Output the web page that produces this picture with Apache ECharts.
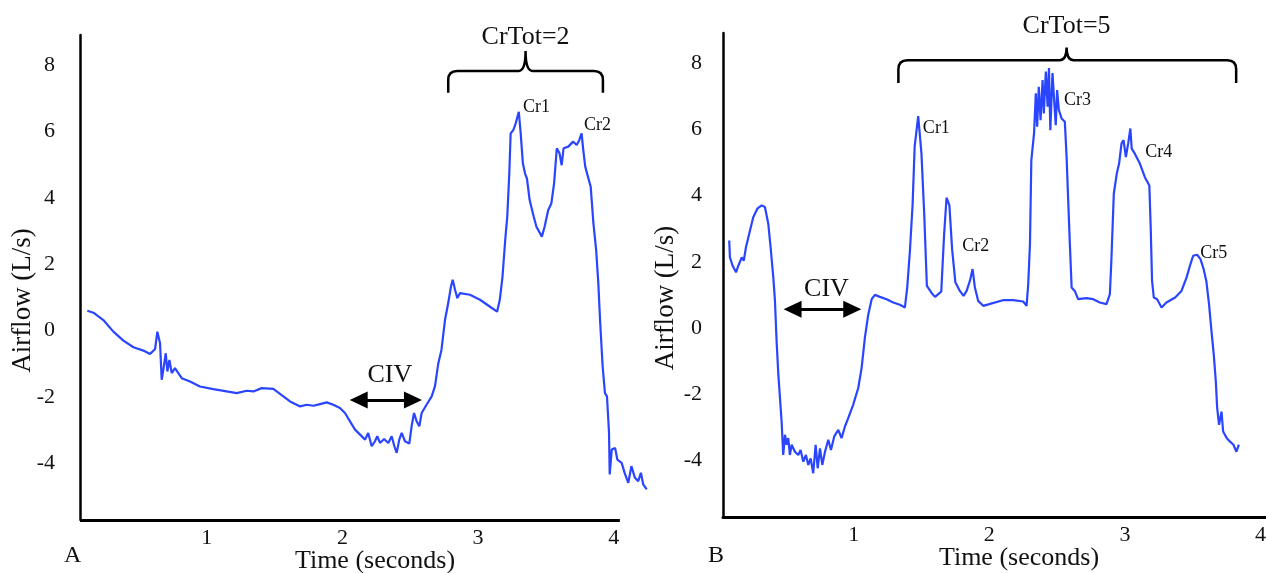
<!DOCTYPE html>
<html><head><meta charset="utf-8">
<script src="https://cdn.jsdelivr.net/npm/echarts@6/dist/echarts.min.js"></script>
<style>html,body{margin:0;padding:0;background:#fff}#c{width:1266px;height:573px}</style>
</head><body><div id="c"></div>
<script>
// ---------- data ----------
const timeA = [0.12,0.165,0.238,0.312,0.386,0.46,0.533,0.582,0.619,0.636,0.648,0.656,0.668,0.68,0.698,0.71,0.725,0.742,0.766,0.783,0.816,0.877,0.95,1.049,1.147,1.221,1.295,1.344,1.405,1.491,1.54,1.614,1.688,1.737,1.786,1.835,1.884,1.933,1.982,2.019,2.056,2.093,2.13,2.167,2.19,2.216,2.24,2.257,2.277,2.307,2.338,2.363,2.383,2.4,2.419,2.437,2.461,2.493,2.51,2.528,2.547,2.567,2.584,2.62,2.658,2.682,2.707,
  2.73,2.756,2.78,2.8,2.813,2.83,2.847,2.867,2.94,3.014,3.088,3.14,3.16,3.18,3.2,3.215,3.23,3.24,3.26,3.277,3.29,3.30,3.314,3.33,3.346,3.36,3.38,3.41,3.43,3.47,3.49,3.517,3.54,3.56,3.58,3.6,3.616,3.63,3.665,3.7,3.727,3.746,3.763,3.775,3.79,3.81,3.83,3.85,3.87,3.886,3.9,3.918,3.935,3.95,3.965,3.97,3.985,4.01,4.026,4.058,4.08,4.107,4.13,4.156,4.18,4.2,4.217,4.243];
const flowA = [0.6,0.54,0.32,-0.03,-0.3,-0.5,-0.6,-0.7,-0.56,-0.03,0.02,-0.38,-1.48,-1.18,-0.68,-1.23,-0.88,-1.28,-1.13,-1.23,-1.43,-1.53,-1.68,-1.76,-1.83,-1.88,-1.81,-1.83,-1.73,-1.75,-1.9,-2.13,-2.28,-2.23,-2.26,-2.21,-2.16,-2.23,-2.33,-2.48,-2.73,-2.98,-3.13,-3.28,-3.08,-3.48,-3.33,-3.18,-3.38,-3.26,-3.38,-3.18,-3.48,-3.68,-3.28,-3.08,-3.33,-3.4,-2.88,-2.48,-2.73,-2.88,-2.48,-2.23,-1.98,-1.68,-0.98,
  -0.58,0.32,0.83,1.33,1.53,1.23,0.98,1.13,1.08,0.93,0.72,0.57,0.93,1.63,2.73,3.43,4.73,5.94,6.04,6.24,6.44,6.59,5.94,5.04,4.73,4.58,3.93,3.43,3.13,2.83,3.13,3.63,3.83,4.43,5.49,5.34,4.98,5.49,5.54,5.69,5.59,5.74,5.94,5.44,4.93,4.63,4.33,3.23,2.43,1.43,0.23,-1.08,-1.88,-1.98,-3.08,-4.33,-3.58,-3.53,-3.88,-3.98,-4.28,-4.58,-4.08,-4.43,-4.53,-4.28,-4.63,-4.78];

const timeB = [0.083,0.088,0.108,0.133,0.15,0.175,0.19,0.206,0.236,0.26,0.29,0.322,0.346,0.371,0.388,0.408,0.42,0.432,0.445,0.457,0.469,0.481,0.494,0.506,0.518,0.53,0.543,0.567,0.592,0.609,0.629,0.648,0.666,0.683,0.702,0.72,0.735,0.752,0.769,0.789,0.813,0.833,0.857,0.887,0.911,0.936,0.96,0.997,1.034,1.059,1.083,1.108,1.133,1.157,1.194,1.243,1.292,1.341,1.378,1.395,1.415,1.435,
  1.45,1.476,1.5,1.52,1.54,1.576,1.6,1.646,1.667,1.685,1.706,1.726,1.75,1.783,1.81,1.833,1.857,1.877,1.894,1.918,1.955,2.0,2.1,2.176,2.25,2.275,2.287,2.3,2.31,2.33,2.343,2.353,2.365,2.378,2.393,2.402,2.417,2.43,2.44,2.45,2.466,2.478,2.49,2.5,2.513,2.533,2.557,2.57,2.58,2.594,2.607,2.63,2.655,2.717,2.766,2.815,2.864,2.889,2.9,2.918,2.94,2.957,2.975,2.99,3.007,3.024,3.04,3.05,3.073,3.11,3.147,3.18,3.19,3.2,3.213,3.237,3.27,3.306,3.37,3.417,3.454,3.483,3.503,3.532,3.557,3.58,3.6,3.62,3.638,3.655,3.67,3.68,3.694,3.712,3.724,3.75,3.773,3.8,3.822,3.84];
const flowB = [2.64,2.13,1.88,1.68,1.88,2.13,2.03,2.43,2.94,3.34,3.6,3.7,3.65,3.14,2.43,1.52,0.82,-0.39,-1.4,-2.11,-2.82,-3.83,-3.22,-3.52,-3.32,-3.83,-3.52,-3.73,-3.83,-3.68,-4.03,-3.83,-4.13,-3.93,-4.38,-3.52,-4.23,-3.63,-4.13,-3.73,-3.37,-3.68,-3.27,-3.07,-3.32,-2.97,-2.72,-2.31,-1.81,-1.2,-0.29,0.41,0.87,1.0,0.94,0.87,0.77,0.7,0.62,1.22,2.33,3.75,
  5.48,6.39,5.26,3.48,1.27,1.05,0.94,1.1,2.82,3.93,3.7,2.38,1.38,1.12,0.97,1.12,1.42,1.78,1.22,0.82,0.67,0.72,0.84,0.84,0.8,0.67,1.32,2.54,5.06,5.87,7.08,6.07,7.28,6.27,7.48,6.47,7.74,6.68,7.84,5.97,7.69,6.88,6.12,7.18,6.58,6.32,6.22,5.16,4.05,2.54,1.22,1.12,0.87,0.9,0.87,0.77,0.72,1.02,2.03,4.05,4.66,4.96,5.57,5.67,5.16,5.57,6.02,5.41,5.26,4.96,4.55,4.3,3.04,1.42,0.92,0.87,0.62,0.77,0.92,1.12,1.52,1.93,2.18,2.21,2.08,1.78,1.42,0.72,-0.09,-0.8,-1.61,-2.41,-2.92,-2.52,-3.12,-3.32,-3.42,-3.52,-3.73,-3.52];

const xTickValues = [1,2,3,4];
const yTickValues = [-4,-2,0,2,4,6,8];

// annotations (data coordinates)
const crNamesA = ['Cr1','Cr2'];
const crTimeA  = [3.43, 3.88];
const crFlowA  = [6.73, 6.19];
const crNamesB = ['Cr1','Cr2','Cr3','Cr4','Cr5'];
const crTimeB  = [1.61, 1.90, 2.65, 3.25, 3.655];
const crFlowB  = [6.03, 2.47, 6.88, 5.31, 2.26];
const totTextA = 'CrTot=2', totTextB = 'CrTot=5';
const totPosA = [3.35, 8.84], totPosB = [2.57, 9.11];
// brace: [left t, right t, centre t, end flow, line flow, peak flow]
const braceA = [2.78, 3.92, 3.35, 7.16, 7.82, 8.42];
const braceB = [1.33, 3.82, 2.57, 7.39, 8.08, 8.46];
// CIV arrow: [start t, end t, flow], text position
const civArrowA = [2.12, 2.52, -2.09], civTextA = [2.35, -1.33];
const civArrowB = [0.55, 0.99, 0.57],  civTextB = [0.80, 1.18];
// axis extents
const yMin = -5.7, yMax = 8.9;
const xRangeA = [0.066, 4.267], xAxisEndA = 4.045;
const xRangeB = [0.037, 4.04];

// ---------- chart ----------
const SERIF = '"Liberation Serif","DejaVu Serif",serif';
const BLUE = '#2a45ff';
const TXT = '#111';
const zip = (a, b) => a.map((v, i) => [v, b[i]]);

function xAxisCfg(gi, range, showLine, shift) {
  return {
    type: 'value', gridIndex: gi, min: range[0], max: range[1],
    axisLine: {show: showLine, onZero: false, lineStyle: {color: '#000', width: 3}},
    axisTick: {show: false}, splitLine: {show: false},
    axisLabel: {customValues: xTickValues, fontFamily: SERIF, fontSize: 22, color: TXT, margin: 7},
    name: 'Time (seconds)', nameLocation: 'middle', nameGap: 28, nameMoveOverlap: false,
    nameTextStyle: {fontFamily: SERIF, fontSize: 26, color: TXT, padding: [0, 0, 0, 2 * shift]}
  };
}
function yAxisCfg(gi, margin) {
  return {
    type: 'value', gridIndex: gi, min: yMin, max: yMax,
    axisLine: {show: true, onZero: false, lineStyle: {color: '#000', width: 2.5}},
    axisTick: {show: false}, splitLine: {show: false},
    axisLabel: {customValues: yTickValues, fontFamily: SERIF, fontSize: 22, color: TXT, margin: margin},
    name: 'Airflow (L/s)', nameLocation: 'middle', nameRotate: 90, nameGap: 44, nameMoveOverlap: false,
    nameTextStyle: {fontFamily: SERIF, fontSize: 27, color: TXT, padding: [0, 46, 0, 0]}
  };
}

function renderBrace(params, api) {
  const x1 = api.value(0), x2 = api.value(1), xc = api.value(2);
  const yb = api.value(3), yl = api.value(4), yp = api.value(5);
  const a = api.coord([x1, yb]), b = api.coord([x1, yl]), c = api.coord([xc, yp]);
  const d = api.coord([x2, yl]), e = api.coord([x2, yb]);
  const r = 9, r2 = 7, Y = b[1];
  const p = 'M' + a[0] + ',' + a[1] +
    ' L' + b[0] + ',' + (Y + r) +
    ' Q' + b[0] + ',' + Y + ' ' + (b[0] + r) + ',' + Y +
    ' L' + (c[0] - r2) + ',' + Y +
    ' Q' + c[0] + ',' + Y + ' ' + c[0] + ',' + c[1] +
    ' Q' + c[0] + ',' + Y + ' ' + (c[0] + r2) + ',' + Y +
    ' L' + (d[0] - r) + ',' + Y +
    ' Q' + d[0] + ',' + Y + ' ' + d[0] + ',' + (Y + r) +
    ' L' + e[0] + ',' + e[1];
  return {type: 'path', shape: {pathData: p}, style: {fill: null, stroke: '#000', lineWidth: 2.5}};
}

function annSeries(gi, names, ts, vs, totText, totPos, civPos) {
  const data = names.map((n, i) => ({value: [ts[i], vs[i]], name: n,
    label: {fontSize: 18, color: TXT}}));
  data.push({value: totPos, name: totText, label: {fontSize: 26, color: TXT}});
  data.push({value: civPos, name: 'CIV', label: {fontSize: 26, color: TXT}});
  return {
    type: 'scatter', xAxisIndex: gi, yAxisIndex: gi, symbolSize: 0, silent: true, clip: false,
    itemStyle: {opacity: 1},
    data: data,
    label: {show: true, position: 'inside', formatter: '{b}', fontFamily: SERIF, color: TXT, opacity: 1}
  };
}

function lineSeries(gi, ts, vs, arrow, axisEnd) {
  const ml = [[{coord: [arrow[0], arrow[2]]}, {coord: [arrow[1], arrow[2]]}]];
  if (axisEnd) {
    ml.push([{coord: [xRangeA[0], yMin], symbol: 'none', lineStyle: {color: '#000', width: 3}},
             {coord: [axisEnd, yMin], symbol: 'none'}]);
  }
  return {
    type: 'line', xAxisIndex: gi, yAxisIndex: gi, data: zip(ts, vs),
    showSymbol: false, clip: false, silent: true,
    lineStyle: {color: BLUE, width: 2.2}, itemStyle: {color: BLUE},
    markLine: {
      silent: true, symbol: ['triangle', 'triangle'], symbolSize: [17, 18],
      label: {show: false},
      lineStyle: {color: '#000', width: 3, type: 'solid'},
      itemStyle: {color: '#000'},
      emphasis: {disabled: true},
      data: ml
    }
  };
}

const chart = echarts.init(document.getElementById('c'), null, {renderer: 'canvas'});
chart.setOption({
  animation: false,
  backgroundColor: '#fff',
  grid: [
    {left: 80, top: 35, width: 570, height: 485, outerBoundsMode: 'none', containLabel: false},
    {left: 723, top: 33, width: 543, height: 484, outerBoundsMode: 'none', containLabel: false}
  ],
  xAxis: [xAxisCfg(0, xRangeA, false, 375 - (80 + 570 / 2)), xAxisCfg(1, xRangeB, true, 1019 - (723 + 543 / 2))],
  yAxis: [yAxisCfg(0, 25), yAxisCfg(1, 21)],
  series: [
    lineSeries(0, timeA, flowA, civArrowA, xAxisEndA),
    lineSeries(1, timeB, flowB, civArrowB, null),
    annSeries(0, crNamesA, crTimeA, crFlowA, totTextA, totPosA, civTextA),
    annSeries(1, crNamesB, crTimeB, crFlowB, totTextB, totPosB, civTextB),
    {type: 'custom', xAxisIndex: 0, yAxisIndex: 0, renderItem: renderBrace, data: [braceA], clip: false, silent: true},
    {type: 'custom', xAxisIndex: 1, yAxisIndex: 1, renderItem: renderBrace, data: [braceB], clip: false, silent: true}
  ],
  graphic: [
    {type: 'text', left: 64, top: 544, style: {text: 'A', font: '24px ' + SERIF, fill: TXT}},
    {type: 'text', left: 708, top: 544, style: {text: 'B', font: '24px ' + SERIF, fill: TXT}}
  ]
});
</script>
</body></html>
